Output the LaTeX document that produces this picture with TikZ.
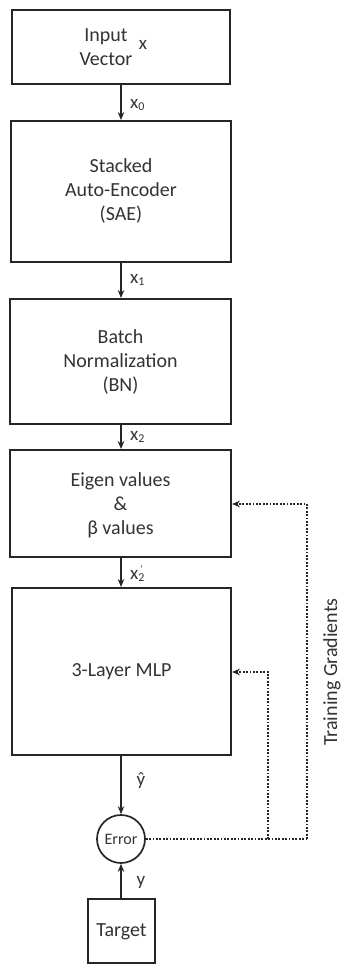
\documentclass[tikz,border=0pt]{standalone}
\usepackage{fontspec}
\setmainfont{Carlito}
\usetikzlibrary{arrows.meta}
\definecolor{txt}{HTML}{333333}
\tikzset{
  blk/.style={draw=black!85, line width=1.9pt, rectangle, inner sep=0pt},
  lbl/.style={text=txt, font=\fontsize{20}{24}\selectfont, align=center, inner sep=0pt},
  sml/.style={text=txt, font=\fontsize{19}{20}\selectfont, inner sep=0pt},
  flow/.style={draw=black!85, line width=1.5pt, -{Stealth[length=8pt,width=6.5pt]}},
  fb/.style={draw=black!85, line width=1.8pt, dash pattern=on 1.8pt off 1.6pt, -{Stealth[length=8pt,width=6.5pt]}},
  fbl/.style={draw=black!85, line width=1.8pt, dash pattern=on 1.8pt off 1.6pt}
}
\newcommand{\subs}[1]{\raisebox{-0.25ex}{\fontsize{12}{12}\selectfont #1}}
\begin{document}
\begin{tikzpicture}[x=1pt,y=-1pt]
\useasboundingbox (0,0) rectangle (343,965);
\node[blk, minimum width=218pt, minimum height=74pt] (in) at (121,47) {};
\node[lbl] (intxt) at (106,47) {Input\\Vector};
\node[sml] (inx) at (143,45) {x};
\node[blk, minimum width=220pt, minimum height=141pt] (sae) at (121,191.5) {};
\node[lbl] (saetxt) at (121,191) {Stacked\\Auto-Encoder\\(SAE)};
\node[blk, minimum width=221pt, minimum height=125pt] (bn) at (120.5,361.5) {};
\node[lbl] (bntxt) at (120.5,362) {Batch\\Normalization\\(BN)};
\node[blk, minimum width=221pt, minimum height=107pt] (eig) at (120.5,503.5) {};
\node[lbl] (eigtxt) at (120.5,505) {Eigen values\\\&\\β values};
\node[blk, minimum width=219pt, minimum height=167pt] (mlp) at (121.5,671.5) {};
\node[lbl] (mlptxt) at (121.5,672) {3-Layer MLP};
\node[draw=black!85, line width=1.7pt, circle, minimum size=48pt, inner sep=0pt, text=txt, font=\fontsize{16}{16}\selectfont] (err) at (121,839) {Error};
\node[blk, minimum width=67pt, minimum height=64pt] (tgt) at (121.5,931) {};
\node[lbl] (tgttxt) at (121.5,932) {Target};

\draw[flow] (in.south -| 121,0) -- (sae.north -| 121,0);
\draw[flow] (sae.south -| 121,0) -- (bn.north -| 121,0);
\draw[flow] (bn.south -| 121,0) -- (eig.north -| 121,0);
\draw[flow] (eig.south -| 121,0) -- (mlp.north -| 121,0);
\draw[flow] (mlp.south -| 121,0) -- (err.north);
\draw[flow] (tgt.north -| 121,0) -- (err.south);

\node[sml, anchor=west] (l0) at (130,105) {x\subs{0}};
\node[sml, anchor=west] (l1) at (130,280) {x\subs{1}};
\node[sml, anchor=west] (l2) at (130,437) {x\subs{2}};
\node[sml, anchor=west] (l3) at (130,574) {x\subs{2}\llap{\raisebox{0.75ex}{\fontsize{10}{10}\selectfont\textquotesingle}\hspace{2pt}}};
\node[sml] (lyh) at (141,781) {ŷ};
\node[sml] (ly) at (141,882) {y};

\coordinate (c1) at (268,839);
\coordinate (c2) at (307,839);
\coordinate (c3) at (268,672);
\coordinate (c4) at (307,504);
\draw[fbl] (err.east) -- (c2);
\draw[fb] (c2) -- (c4) -- (eig.east |- c4);
\draw[fb] (c1) -- (c3) -- (mlp.east |- c3);
\node[text=txt, font=\fontsize{20}{20}\selectfont, rotate=90, inner sep=0pt] (tg) at (332,672) {Training Gradients};
\end{tikzpicture}
\end{document}
